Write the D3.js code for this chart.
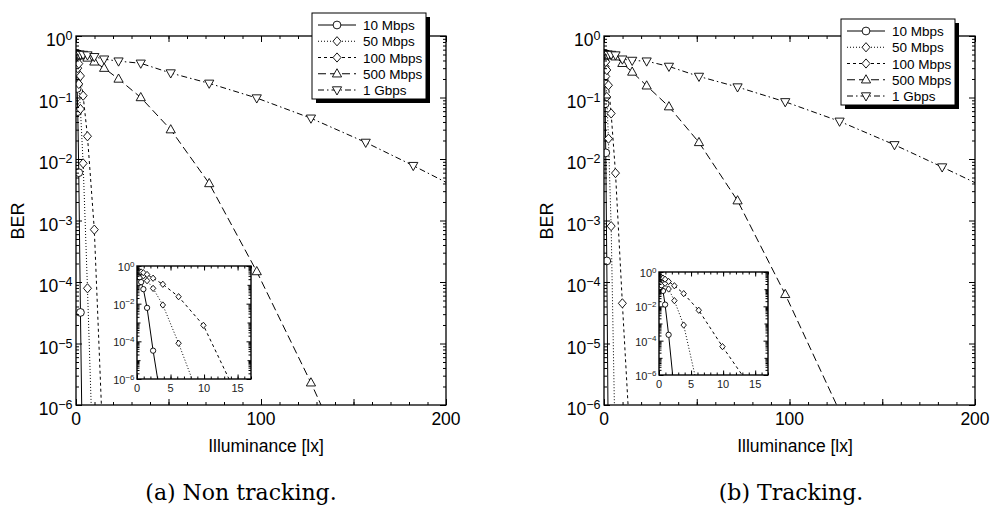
<!DOCTYPE html>
<html>
<head>
<meta charset="utf-8">
<script src="https://cdn.jsdelivr.net/npm/d3@7"></script>
<style>
  body { margin: 0; background: #fff; }
  svg { font-family: "Liberation Sans", Arial, sans-serif; }
</style>
</head>
<body>
<svg width="995" height="513"></svg>
<script>
// illuminance grid [lx] shared by every curve
var illum = [0, 0.05, 0.1, 0.16, 0.25, 0.4, 0.62, 0.95, 1.5, 2.4, 3.85, 6.2, 9.9, 15.2, 23, 35, 51.2, 72, 97.7, 127, 156.6, 182.3, 205];

var rates = ["10 Mbps", "50 Mbps", "100 Mbps", "500 Mbps", "1 Gbps"];

// BER, non tracking
var ntBer10  = [0.5, 0.49, 0.47, 0.43, 0.35, 0.25, 0.14, 0.059, 6.0e-3, 3.2e-5, 2.0e-8];
var ntBer50  = [0.5, 0.5, 0.49, 0.49, 0.48, 0.46, 0.42, 0.30, 0.166, 0.065, 8.5e-3, 7.9e-5, 2.5e-8];
var ntBer100 = [0.5, 0.5, 0.5, 0.5, 0.49, 0.49, 0.48, 0.44, 0.355, 0.224, 0.107, 0.0234, 7.1e-4, 7.9e-8];
var ntBer500 = [0.5, 0.5, 0.5, 0.5, 0.5, 0.5, 0.5, 0.5, 0.5, 0.49, 0.48, 0.44, 0.38, 0.30, 0.20, 0.10, 0.030, 4.0e-3, 1.48e-4, 2.3e-6, 2.5e-8];
var ntBer1g  = [0.5, 0.5, 0.5, 0.5, 0.5, 0.5, 0.5, 0.5, 0.5, 0.5, 0.5, 0.49, 0.46, 0.42, 0.39, 0.36, 0.25, 0.17, 0.098, 0.046, 0.0186, 7.8e-3, 3.5e-3];

// BER, tracking
var trBer10  = [0.5, 0.48, 0.45, 0.38, 0.26, 0.17, 0.079, 0.0126, 2.2e-4, 1e-7];
var trBer50  = [0.5, 0.5, 0.49, 0.48, 0.46, 0.40, 0.32, 0.22, 0.102, 0.0214, 8.1e-4, 1e-7];
var trBer100 = [0.5, 0.5, 0.5, 0.49, 0.49, 0.47, 0.44, 0.38, 0.28, 0.158, 0.055, 5.9e-3, 4.5e-5, 6.3e-8];
var trBer500 = [0.5, 0.5, 0.5, 0.5, 0.5, 0.5, 0.5, 0.5, 0.5, 0.49, 0.48, 0.46, 0.36, 0.26, 0.155, 0.071, 0.0186, 2.1e-3, 6.3e-5, 7.9e-7, 1e-8];
var trBer1g  = [0.5, 0.5, 0.5, 0.5, 0.5, 0.5, 0.5, 0.5, 0.5, 0.5, 0.5, 0.49, 0.42, 0.40, 0.39, 0.32, 0.22, 0.148, 0.085, 0.041, 0.017, 7.4e-3, 3.5e-3];

var xLabels = [0, 100, 200];
var decades = [-6, -5, -4, -3, -2, -1, 0];
var insetXLabels = [0, 5, 10, 15];
var insetDecades = [-6, -4, -2, 0];
var insetRates = 3; // the inset only shows the three lowest rates

// line / marker style per rate
var styles = [
  {dash: null, mark: "circle"},
  {dash: "1,2", mark: "diamond"},
  {dash: "3,3", mark: "diamond"},
  {dash: "8,4", mark: "up"},
  {dash: "6,3,1.5,3", mark: "down"}
];

var svg = d3.select("svg");

var panels = [
  {id: "a", x0: 76, x1: 446, legX: 312, legY: 13, inset: [137, 251, 266, 379],
   caption: "(a) Non tracking.", capX: 241, berX: 24,
   data: [ntBer10, ntBer50, ntBer100, ntBer500, ntBer1g]},
  {id: "b", x0: 604, x1: 975, legX: 841, legY: 19, inset: [659, 768, 272, 375],
   caption: "(b) Tracking.", capX: 791, berX: 553,
   data: [trBer10, trBer50, trBer100, trBer500, trBer1g]}
];

function markPath(type, k) {
  if (type == "circle") {
    var r = 3.9 * k;
    return "M" + (-r) + ",0A" + r + "," + r + " 0 1,0 " + r + ",0A" + r + "," + r + " 0 1,0 " + (-r) + ",0Z";
  }
  if (type == "diamond") return "M0," + (-4.6 * k) + "L" + (4 * k) + ",0L0," + (4.6 * k) + "L" + (-4 * k) + ",0Z";
  if (type == "up") return "M0," + (-5 * k) + "L" + (4.6 * k) + "," + (3.2 * k) + "L" + (-4.6 * k) + "," + (3.2 * k) + "Z";
  return "M0," + (5 * k) + "L" + (4.6 * k) + "," + (-3.2 * k) + "L" + (-4.6 * k) + "," + (-3.2 * k) + "Z";
}

function minorLog(lo, hi) {
  var out = [];
  for (var e = lo; e < hi; e++)
    for (var m = 2; m <= 9; m++) out.push(m * Math.pow(10, e));
  return out;
}

// inward ticks on all four sides
function addTicks(g, x, y, xs, ys) {
  var xr = x.range(), yr = y.range();
  function put(axis, tr) {
    g.append("g").attr("transform", "translate(" + tr + ")")
      .call(axis.tickFormat("").tickSizeOuter(0))
      .call(function(s) { s.select(".domain").remove(); })
      .selectAll("line").attr("stroke", "#000").attr("stroke-width", 1);
  }
  xs.forEach(function(t) {
    put(d3.axisBottom(x).tickValues(t.v).tickSizeInner(-t.len), "0," + yr[0]);
    put(d3.axisTop(x).tickValues(t.v).tickSizeInner(-t.len), "0," + yr[1]);
  });
  ys.forEach(function(t) {
    put(d3.axisLeft(y).tickValues(t.v).tickSizeInner(-t.len), xr[0] + ",0");
    put(d3.axisRight(y).tickValues(t.v).tickSizeInner(-t.len), xr[1] + ",0");
  });
}

function powLabel(g, xr, yv, e, fs, ss, up, down) {
  var t = g.append("text")
    .attr("x", xr).attr("y", yv + down)
    .attr("text-anchor", "end")
    .style("font-size", fs + "px");
  t.append("tspan").text("10");
  t.append("tspan").attr("dy", -up).style("font-size", ss + "px")
    .text(e < 0 ? "\u2212" + (-e) : e);
}

function drawCurves(g, x, y, data, k) {
  data.forEach(function(vals, i) {
    var pts = vals.map(function(v, j) { return [illum[j], v]; });
    var line = d3.line()
      .x(function(d) { return x(d[0]); })
      .y(function(d) { return y(d[1]); });
    g.append("path")
      .attr("d", line(pts))
      .attr("fill", "none")
      .attr("stroke", "#000")
      .attr("stroke-width", 1)
      .attr("stroke-dasharray", styles[i].dash);
  });
  data.forEach(function(vals, i) {
    var pts = vals.map(function(v, j) { return [illum[j], v]; });
    g.selectAll(null)
      .data(pts)
      .enter().append("path")
        .attr("transform", function(d) { return "translate(" + x(d[0]) + "," + y(d[1]) + ")"; })
        .attr("d", markPath(styles[i].mark, k))
        .attr("fill", "#fff")
        .attr("stroke", "#000")
        .attr("stroke-width", 0.9);
  });
}

panels.forEach(function(p) {
  var top = 36, bottom = 405;
  var x = d3.scaleLinear().domain([0, 200]).range([p.x0, p.x1]);
  var y = d3.scaleLog().domain([1e-6, 1]).range([bottom, top]);
  var g = svg.append("g");

  g.append("clipPath").attr("id", "clip" + p.id)
    .append("rect").attr("x", p.x0).attr("y", top)
    .attr("width", p.x1 - p.x0).attr("height", bottom - top);

  drawCurves(g.append("g").attr("clip-path", "url(#clip" + p.id + ")"), x, y, p.data, 1);

  addTicks(g, x, y,
    [{v: d3.range(0, 201, 10), len: 3}, {v: d3.range(0, 201, 50), len: 6}],
    [{v: minorLog(-6, 0), len: 3}, {v: decades.map(function(e) { return Math.pow(10, e); }), len: 6}]);

  g.append("rect")
    .attr("x", p.x0).attr("y", top)
    .attr("width", p.x1 - p.x0).attr("height", bottom - top)
    .attr("fill", "none").attr("stroke", "#000").attr("stroke-width", 1.3);

  decades.forEach(function(e) {
    powLabel(g, p.x0 - 3.5, y(Math.pow(10, e)), e, 17.5, 12.5, 6, 10);
  });
  xLabels.forEach(function(v) {
    g.append("text").attr("x", x(v)).attr("y", bottom + 20)
      .attr("text-anchor", "middle").style("font-size", "17.5px").text(v);
  });

  g.append("text")
    .attr("x", p.x1 - 180).attr("y", 452)
    .attr("text-anchor", "middle").style("font-size", "17.5px")
    .text("Illuminance [lx]");
  g.append("text")
    .attr("transform", "translate(" + p.berX + ",221) rotate(-90)")
    .attr("text-anchor", "middle").style("font-size", "18px")
    .text("BER");
  g.append("text")
    .attr("x", p.capX).attr("y", 500)
    .attr("text-anchor", "middle")
    .style("font-family", "'DejaVu Serif', serif").style("font-size", "22px")
    .text(p.caption);

  // inset zoom on the low illuminance range
  var ib = p.inset;
  var ix = d3.scaleLinear().domain([0, 17]).range([ib[0], ib[1]]);
  var iy = d3.scaleLog().domain([1e-6, 1]).range([ib[3], ib[2]]);
  var ig = g.append("g");
  ig.append("rect").attr("x", ib[0]).attr("y", ib[2])
    .attr("width", ib[1] - ib[0]).attr("height", ib[3] - ib[2]).attr("fill", "#fff");
  ig.append("clipPath").attr("id", "iclip" + p.id)
    .append("rect").attr("x", ib[0]).attr("y", ib[2])
    .attr("width", ib[1] - ib[0]).attr("height", ib[3] - ib[2]);
  drawCurves(ig.append("g").attr("clip-path", "url(#iclip" + p.id + ")"), ix, iy,
    p.data.slice(0, insetRates), 0.68);
  addTicks(ig, ix, iy,
    [{v: d3.range(0, 18, 1), len: 2.5}, {v: d3.range(0, 18, 5), len: 4.5}],
    [{v: minorLog(-6, 0), len: 2.5},
     {v: [1e-5, 1e-3, 1e-1], len: 3.5},
     {v: insetDecades.map(function(e) { return Math.pow(10, e); }), len: 4.5}]);
  ig.append("rect").attr("x", ib[0]).attr("y", ib[2])
    .attr("width", ib[1] - ib[0]).attr("height", ib[3] - ib[2])
    .attr("fill", "none").attr("stroke", "#000").attr("stroke-width", 1.4);
  insetDecades.forEach(function(e) {
    powLabel(ig.append("g").attr("fill", "#222"), ib[0] - 2.5, iy(Math.pow(10, e)), e, 11, 8, 4.5, 5);
  });
  insetXLabels.forEach(function(v) {
    ig.append("text").attr("x", ix(v)).attr("y", ib[3] + 13)
      .attr("text-anchor", "middle").attr("fill", "#222")
      .style("font-size", "11px").text(v);
  });

  // legend with drop shadow
  var lw = 114, lh = 86;
  var lg = g.append("g").attr("transform", "translate(" + p.legX + "," + p.legY + ")");
  lg.append("rect").attr("x", 4).attr("y", 4).attr("width", lw).attr("height", lh).attr("fill", "#000");
  lg.append("rect").attr("width", lw).attr("height", lh)
    .attr("fill", "#fff").attr("stroke", "#000").attr("stroke-width", 1);
  var row = d3.scaleLinear().domain([0, 4]).range([12, 77]);
  rates.forEach(function(name, i) {
    var yy = row(i);
    lg.append("line").attr("x1", 6).attr("x2", 44).attr("y1", yy).attr("y2", yy)
      .attr("stroke", "#000").attr("stroke-width", 1)
      .attr("stroke-dasharray", styles[i].dash);
    lg.append("path").attr("transform", "translate(25," + yy + ")")
      .attr("d", markPath(styles[i].mark, 1))
      .attr("fill", "#fff").attr("stroke", "#000").attr("stroke-width", 0.9);
    lg.append("text").attr("x", 51).attr("y", yy + 5)
      .style("font-size", "13.5px").text(name);
  });
});
</script>
</body>
</html>
